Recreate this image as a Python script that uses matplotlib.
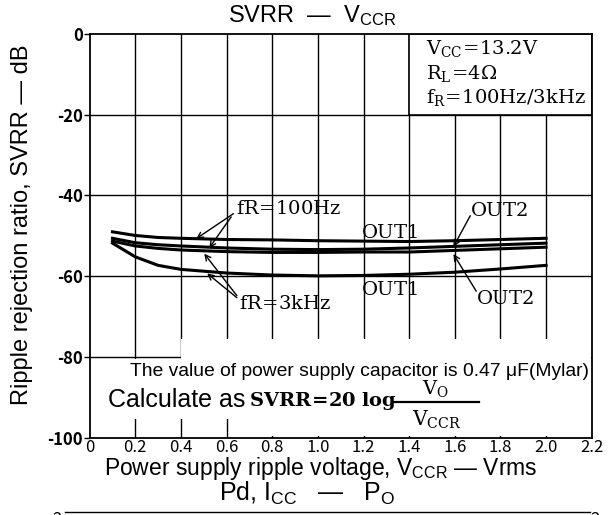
import matplotlib
matplotlib.use("Agg")
import matplotlib.pyplot as plt
from matplotlib.patches import Rectangle, Polygon
from matplotlib.lines import Line2D

plt.rcParams["mathtext.fontset"] = "custom"
plt.rcParams["mathtext.rm"] = "DejaVu Serif"
plt.rcParams["mathtext.it"] = "DejaVu Serif:italic"
plt.rcParams["mathtext.bf"] = "DejaVu Serif:bold"
plt.rcParams["mathtext.sf"] = "Liberation Sans"

# valores (dB)
vccr = [0.1, 0.2, 0.3, 0.4, 0.6, 0.8, 1.0, 1.2, 1.4, 1.6, 1.8, 2.0]
out1_100hz = [-49.0, -49.9, -50.4, -50.6, -50.9, -51.0, -51.2, -51.3, -51.4, -51.2, -50.9, -50.6]
out2_100hz = [-50.6, -51.7, -52.2, -52.5, -53.0, -53.3, -53.4, -53.3, -53.0, -52.6, -52.2, -51.8]
out2_3khz = [-51.3, -52.5, -53.1, -53.5, -53.9, -54.1, -54.1, -54.0, -54.0, -53.6, -53.2, -52.8]
out1_3khz = [-51.8, -55.2, -57.3, -58.3, -59.2, -59.7, -59.9, -59.8, -59.5, -59.0, -58.2, -57.3]

x_ticks = [0, 0.2, 0.4, 0.6, 0.8, 1.0, 1.2, 1.4, 1.6, 1.8, 2.0, 2.2]
x_labels = ["0", "0.2", "0.4", "0.6", "0.8", "1.0", "1.2", "1.4", "1.6", "1.8", "2.0", "2.2"]
y_ticks = [0, -20, -40, -60, -80, -100]
y_labels = ["0", "-20", "-40", "-60", "-80", "-100"]

GOTHIC = ["Noto Sans CJK JP", "DejaVu Sans"]
SANS = "Liberation Sans"

fig = plt.figure(figsize=(6.1, 5.15), dpi=100)
ax = fig.add_axes([0.147, 0.150, 0.823, 0.784])
ax.set_xlim(0, 2.2)
ax.set_ylim(-100, 0)

# grade
for xv in x_ticks[1:-1]:
    ax.axvline(xv, color="black", lw=1.0, zorder=1)
for yv in y_ticks[1:-1]:
    ax.axhline(yv, color="black", lw=1.0, zorder=1)

for s in ax.spines.values():
    s.set_linewidth(1.3)

ax.set_xticks(x_ticks)
ax.set_xticklabels(x_labels, fontsize=12, family=GOTHIC)
ax.set_yticks(y_ticks)
ax.set_yticklabels(y_labels, fontsize=12, family=GOTHIC, fontweight="bold")
ax.tick_params(axis="x", length=0, pad=1)
ax.tick_params(axis="y", length=4, width=1, pad=1)

# curvas
for ys in (out1_100hz, out2_100hz, out2_3khz, out1_3khz):
    ax.plot(vccr, ys, color="black", lw=2.2, zorder=3)

# caixa de condicoes (canto superior direito)
ax.add_patch(Rectangle((1.4, -20), 0.8, 20, facecolor="white", edgecolor="black",
                       lw=1.2, zorder=2))
ax.text(1.475, -3.5, r"$\mathrm{V_{CC}\!=\!13.2V}$", fontsize=14, va="center", zorder=4)
ax.text(1.475, -9.7, r"$\mathrm{R_L\!=\!4\Omega}$", fontsize=14, va="center", zorder=4)
ax.text(1.475, -15.8, r"$\mathrm{f_R\!=\!100Hz/3kHz}$", fontsize=14, va="center", zorder=4)

# area branca do rodape
ax.add_patch(Polygon([(0.005, -80.6), (0.4, -80.6), (0.4, -75.5), (2.195, -75.5),
                      (2.195, -99.6), (0.7, -99.6), (0.7, -95.3), (0.005, -95.3)],
                     closed=True, facecolor="white", edgecolor="none", zorder=2))
ax.text(0.178, -83.5, "The value of power supply capacitor is 0.47 \u03bcF(Mylar)",
        fontsize=13.9, family=SANS, va="center", zorder=4)
ax.text(0.08, -90.6, "Calculate as", fontsize=18, family=SANS, va="center", zorder=4)
ax.text(0.70, -91.0, r"$\mathbf{SVRR\!=\!20\ log}$", fontsize=14, va="center", zorder=4)
ax.plot([1.33, 1.705], [-91.2, -91.2], color="black", lw=1.6, zorder=4)
ax.text(1.515, -87.9, r"$\mathrm{V_O}$", fontsize=14, ha="center", va="center", zorder=4)
ax.text(1.52, -95.6, r"$\mathrm{V_{CCR}}$", fontsize=14.5, ha="center", va="center", zorder=4)

# anotacoes das curvas
arrow = dict(arrowstyle="->", color="black", lw=1.0, shrinkA=0, shrinkB=0)
ax.text(0.64, -43.2, r"$\mathrm{fR\!=\!100Hz}$", fontsize=14, va="center", zorder=4)
ax.annotate("", xy=(0.467, -50.7), xytext=(0.63, -44.5), arrowprops=arrow)
ax.annotate("", xy=(0.524, -53.0), xytext=(0.62, -45.3), arrowprops=arrow)
ax.text(0.655, -66.8, r"$\mathrm{fR\!=\!3kHz}$", fontsize=14, va="center", zorder=4)
ax.annotate("", xy=(0.502, -54.4), xytext=(0.645, -64.8), arrowprops=arrow)
ax.annotate("", xy=(0.515, -59.3), xytext=(0.645, -65.3), arrowprops=arrow)
ax.text(1.19, -49.2, r"$\mathrm{OUT1}$", fontsize=14, va="center", zorder=4)
ax.text(1.19, -63.3, r"$\mathrm{OUT1}$", fontsize=14, va="center", zorder=4)
ax.text(1.668, -43.8, r"$\mathrm{OUT2}$", fontsize=14, va="center", zorder=4)
ax.annotate("", xy=(1.594, -52.7), xytext=(1.668, -45.0), arrowprops=arrow)
ax.text(1.694, -65.5, r"$\mathrm{OUT2}$", fontsize=14, va="center", zorder=4)
ax.annotate("", xy=(1.594, -54.5), xytext=(1.694, -63.7), arrowprops=arrow)

# titulos e eixos
fig.text(0.512, 0.970, r"SVRR  —  $\mathsf{V_{CCR}}$", fontsize=17, family=SANS,
         ha="center", va="center")
fig.text(0.526, 0.090, r"Power supply ripple voltage, $\mathsf{V_{CCR}}$ — Vrms",
         fontsize=16.5, family=SANS, ha="center", va="center")
fig.text(0.036, 0.563, "Ripple rejection ratio, SVRR — dB", fontsize=17, family=SANS,
         rotation=90, ha="center", va="center")

# inicio do proximo grafico (cortado)
fig.text(0.503, 0.042, r"Pd, $\mathsf{I_{CC}}$   —   $\mathsf{P_O}$", fontsize=18,
         family=SANS, ha="center", va="center")
fig.add_artist(Line2D([0.107, 0.968], [0.006, 0.006], color="black", lw=1.0,
                      transform=fig.transFigure))
fig.text(0.093, -0.008, "2", fontsize=12, family=GOTHIC, ha="center", va="center")
fig.text(0.975, -0.008, "2", fontsize=12, family=GOTHIC, ha="center", va="center")

fig.savefig("out.png", dpi=100)
plt.close(fig)
